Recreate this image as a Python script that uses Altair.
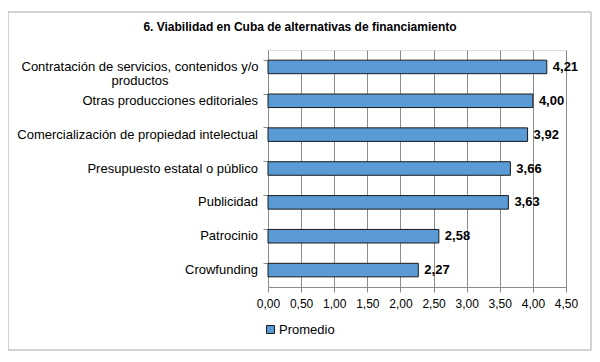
import altair as alt
import pandas as pd

categorias = [
    "Contratación de servicios, contenidos y/o productos",
    "Otras producciones editoriales",
    "Comercialización de propiedad intelectual",
    "Presupuesto estatal o público",
    "Publicidad",
    "Patrocinio",
    "Crowfunding",
]
promedios = [4.21, 4.00, 3.92, 3.66, 3.63, 2.58, 2.27]
serie = "Promedio"
titulo = "6. Viabilidad en Cuba de alternativas de financiamiento"
ticks_x = [0.0, 0.5, 1.0, 1.5, 2.0, 2.5, 3.0, 3.5, 4.0, 4.5]
etiqueta_larga = ["Contratación de servicios, contenidos y/o", "productos"]

FONT = "Liberation Sans"
AZUL = "#5b9bd5"
GRIS = "#8c8c8c"

df = pd.DataFrame({"cat": categorias, "valor": promedios, "serie": serie})

y_enc = alt.Y(
    "cat:N",
    sort=categorias,
    scale=alt.Scale(paddingInner=0.6, paddingOuter=0.3),
    axis=alt.Axis(
        title=None,
        labels=False,
        bandPosition=0,
        tickSize=5,
        tickColor=GRIS,
        domainColor=GRIS,
        grid=False,
    ),
)

x_axis = alt.Axis(
    title=None,
    values=ticks_x,
    labelOverlap=False,
    labelFlush=False,
    labelExpr="replace(format(datum.value, '.2f'), '.', ',')",
    labelFont=FONT,
    labelFontSize=12,
    labelColor="#000000",
    labelPadding=6,
    tickSize=5,
    tickColor=GRIS,
    domainColor=GRIS,
    gridColor=GRIS,
    grid=True,
)
x_scale = alt.Scale(domain=[0, 4.5], nice=False)

base = alt.Chart(df)

bars = base.mark_bar(stroke="#1a1a1a", strokeWidth=1).encode(
    x=alt.X("valor:Q", scale=x_scale, axis=x_axis),
    y=y_enc,
    color=alt.Color(
        "serie:N",
        scale=alt.Scale(domain=[serie], range=[AZUL]),
        legend=alt.Legend(
            title=None,
            orient="none",
            legendX=-4,
            legendY=273,
            symbolType="square",
            symbolSize=64,
            symbolStrokeColor="#1a1a1a",
            symbolStrokeWidth=1,
            symbolFillColor=AZUL,
            labelFont=FONT,
            labelFontSize=13,
            labelColor="#000000",
            labelOffset=2,
            padding=0,
        ),
    ),
)

valores = base.transform_calculate(
    lbl="replace(format(datum.valor, '.2f'), '.', ',')"
).mark_text(
    align="left", baseline="middle", dx=6, font=FONT, fontSize=13,
    fontWeight="bold", color="#000000"
).encode(
    x=alt.X("valor:Q", scale=x_scale, axis=x_axis),
    y=alt.Y("cat:N", sort=categorias),
    text="lbl:N",
)

lbl_der = base.transform_filter(
    alt.datum.cat != categorias[0]
).mark_text(
    align="right", baseline="middle", font=FONT, fontSize=13, color="#000000"
).encode(
    x=alt.value(-10),
    y=alt.Y("cat:N", sort=categorias),
    text="cat:N",
)

df_larga = pd.DataFrame({"cat": [categorias[0]], "txt": ["\n".join(etiqueta_larga)]})
lbl_centro = alt.Chart(df_larga).mark_text(
    align="center", baseline="middle", font=FONT, fontSize=13, color="#000000",
    lineBreak="\n", lineHeight=14
).encode(
    x=alt.value(-128),
    y=alt.Y("cat:N", sort=categorias),
    text="txt:N",
)

df_titulo = pd.DataFrame({"t": [titulo]})
tit = alt.Chart(df_titulo).mark_text(
    align="center", baseline="middle", font=FONT,
    fontSize=12, fontWeight="bold", color="#000000"
).encode(
    x=alt.value(32),
    y=alt.value(-23),
    text="t:N",
)

borde = alt.Chart(df_titulo).mark_rect(
    fill=None, stroke="#a6a6a6", strokeWidth=1
).encode(
    x=alt.value(-260), x2=alt.value(323),
    y=alt.value(-38), y2=alt.value(300),
)

chart = alt.layer(borde, bars, valores, lbl_der, lbl_centro, tit).properties(
    width=298,
    height=237,
    autosize=alt.AutoSizeParams(type="none"),
    padding={"left": 260, "top": 42, "right": 26, "bottom": 67},
).configure_view(stroke=None).configure(background="white")

chart.save("out.html", embed_options={"renderer": "svg", "actions": False})
